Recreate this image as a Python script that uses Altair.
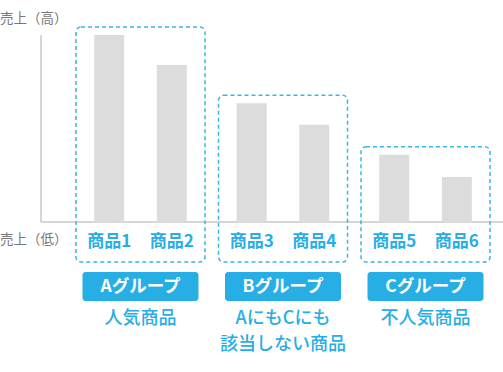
import altair as alt
import pandas as pd

groups = ["A", "A", "B", "B", "C", "C"]
products = ["商品1", "商品2", "商品3", "商品4", "商品5", "商品6"]
slots = ["1", "2", "1", "2", "1", "2"]
sales = [100, 84, 63.5, 52, 36, 24]

group_ids = ["A", "B", "C"]
group_labels = ["Aグループ", "Bグループ", "Cグループ"]
group_desc = ["人気商品", "AにもCにも\n該当しない商品", "不人気商品"]
axis_high = "売上（高）"
axis_low = "売上（低）"

BLUE = "#27aee4"
FONT = "Noto Sans CJK JP"

df = pd.DataFrame({"group": groups, "product": products, "slot": slots, "value": sales})
gdf = pd.DataFrame({"group": group_ids, "label": group_labels, "desc": group_desc})
gmax = df.groupby("group", as_index=False)["value"].max()
gdf = gdf.merge(gmax, on="group")

xs = alt.Scale(domain=group_ids, range=[76, 490], paddingInner=0.095, paddingOuter=0)
ys = alt.Scale(domain=[0, 100], range=[222, 35])
xo = alt.Scale(paddingInner=0, paddingOuter=0.03)

X = alt.X("group:N", scale=xs, axis=None)
XO = alt.XOffset("slot:N", scale=xo)

one = pd.DataFrame({"v": [0]})

yaxis = alt.Chart(one).mark_rule(color="#c8c8c8", strokeWidth=1.5).encode(
    x=alt.value(41), y=alt.value(35), y2=alt.value(222)
)
xaxis = alt.Chart(one).mark_rule(color="#c8c8c8", strokeWidth=1.5).encode(
    y=alt.Y("v:Q", scale=ys, axis=None), x=alt.value(41), x2=alt.value(503)
)

bars = alt.Chart(df).mark_bar(color="#dcdcdc", size=30).encode(
    x=X, xOffset=XO, y=alt.Y("value:Q", scale=ys, axis=None)
)

plabels = alt.Chart(df).mark_text(
    font=FONT, fontSize=17, fontWeight="bold", color=BLUE, baseline="middle"
).encode(x=X, xOffset=XO, y=alt.value(242), text="product:N")

boxes = alt.Chart(gdf).mark_rect(
    fill=None, fillOpacity=0, stroke="#3ab5e6", strokeWidth=1.5, strokeDash=[4, 3],
    cornerRadius=5, yOffset=-8
).encode(x=X, y=alt.Y("value:Q", scale=ys, axis=None), y2=alt.value(262))

tags = alt.Chart(gdf).mark_rect(fill=BLUE, cornerRadius=3, width=116).encode(
    x=X, y=alt.value(272), y2=alt.value(301)
)
tagtext = alt.Chart(gdf).mark_text(
    font=FONT, fontSize=17.5, fontWeight="bold", color="white", baseline="middle"
).encode(x=X, y=alt.value(287), text="label:N")

desc = alt.Chart(gdf).mark_text(
    font=FONT, fontSize=18, fontWeight=500, color=BLUE, baseline="top",
    lineBreak="\n", lineHeight=26
).encode(x=X, y=alt.value(310), text="desc:N")

lab_style = dict(font=FONT, fontSize=13.5, color="#777777", align="left", baseline="middle")
lab_high = alt.Chart(one).mark_text(text=axis_high, **lab_style).encode(
    x=alt.value(0), y=alt.value(19)
)
lab_low = alt.Chart(one).mark_text(text=axis_low, **lab_style).encode(
    x=alt.value(0), y=alt.value(240)
)

chart = alt.layer(
    yaxis, xaxis, bars, boxes, plabels, tags, tagtext, desc, lab_high, lab_low
).properties(
    width=503, height=372, autosize=alt.AutoSizeParams(type="none"), padding=0,
    background="white"
).configure_view(stroke=None)

chart.save("out.html", embed_options={"renderer": "svg", "actions": False})
